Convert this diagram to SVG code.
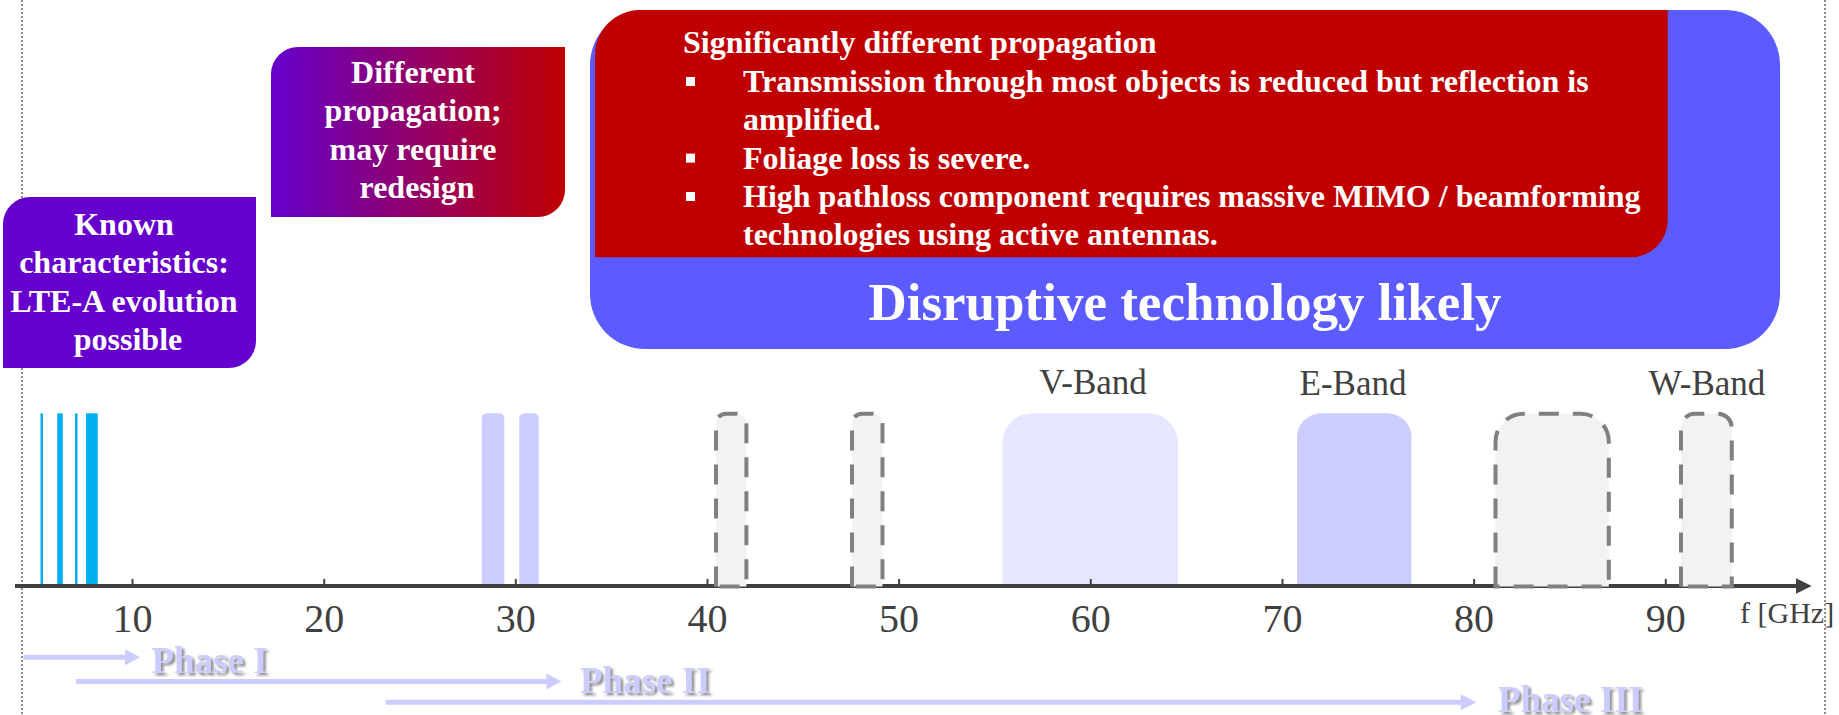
<svg xmlns="http://www.w3.org/2000/svg" width="1839" height="715" viewBox="0 0 1839 715">
  <defs>
    <linearGradient id="gradPurpleRed" x1="0" y1="0" x2="1" y2="0">
      <stop offset="0" stop-color="#6600CC"/>
      <stop offset="1" stop-color="#C00000"/>
    </linearGradient>
    <filter id="phaseShadow" x="-10%" y="-30%" width="130%" height="170%">
      <feDropShadow dx="2.5" dy="2.5" stdDeviation="1" flood-color="#7F7F7F" flood-opacity="0.85"/>
    </filter>
  </defs>
  <style>
    .box-text { font-family: "Liberation Serif", "Times New Roman", serif; font-weight: bold; font-size: 32px; fill: #FFFFFF; }
    .axis-label { font-family: "Liberation Serif", "Times New Roman", serif; fill: #404040; }
    .phase-text { font-family: "Liberation Serif", "Times New Roman", serif; font-weight: bold; font-size: 37px; fill: #CCCCFF; }
    .guide { stroke: #8C8C8C; stroke-width: 2; stroke-dasharray: 2 2; fill: none; }
    .tick { stroke: #404040; stroke-width: 2; }
    .candidate { fill: #F2F2F2; stroke: #808080; stroke-width: 4; stroke-dasharray: 20 14; }
    .phase-line { stroke: #CCCCFF; stroke-width: 5; fill: none; }
    .phase-head { fill: #CCCCFF; }
  </style>

  <!-- page guides -->
  <g id="guides">
    <line class="guide" x1="22" y1="0" x2="22" y2="715"/>
    <line class="guide" x1="1825" y1="0" x2="1825" y2="715"/>
  </g>

  <!-- characterisation boxes -->
  <g id="known-box">
    <path d="M3,368 V224 A27,27 0 0 1 30,197 H256 V341 A27,27 0 0 1 229,368 Z" fill="#6600CC"/>
    <text class="box-text" text-anchor="middle">
      <tspan x="128" y="235">Known</tspan>
      <tspan x="128" y="273.4">characteristics:</tspan>
      <tspan x="128" y="311.8">LTE-A evolution</tspan>
      <tspan x="128" y="350.2">possible</tspan>
    </text>
  </g>

  <g id="different-box">
    <path d="M271,217 V74 A27,27 0 0 1 298,47 H565 V190 A27,27 0 0 1 538,217 Z" fill="url(#gradPurpleRed)"/>
    <text class="box-text" text-anchor="middle">
      <tspan x="417" y="82.7">Different</tspan>
      <tspan x="417" y="121.1">propagation;</tspan>
      <tspan x="417" y="159.5">may require</tspan>
      <tspan x="417" y="197.9">redesign</tspan>
    </text>
  </g>

  <g id="disruptive-box">
    <rect x="590" y="10" width="1190" height="339" rx="55" ry="55" fill="#5B5BFF"/>
    <text class="box-text" x="1185" y="320" text-anchor="middle" style="font-size:53px">Disruptive technology likely</text>
  </g>

  <g id="propagation-box">
    <path d="M595,257.3 V55 A45,45 0 0 1 640,10 H1667.7 V220.3 A37,37 0 0 1 1630.7,257.3 Z" fill="#C00000"/>
    <text class="box-text" x="683" y="53.3">Significantly different propagation</text>
    <rect x="686" y="77" width="9" height="9" fill="#FFFFFF"/>
    <rect x="686" y="153.6" width="9" height="9" fill="#FFFFFF"/>
    <rect x="686" y="192" width="9" height="9" fill="#FFFFFF"/>
    <text class="box-text">
      <tspan x="743" y="91.7">Transmission through most objects is reduced but reflection is</tspan>
      <tspan x="743" y="130.1">amplified.</tspan>
      <tspan x="743" y="168.5">Foliage loss is severe.</tspan>
      <tspan x="743" y="206.9">High pathloss component requires massive MIMO / beamforming</tspan>
      <tspan x="743" y="245.3">technologies using active antennas.</tspan>
    </text>
  </g>

  <!-- spectrum allocations -->
  <g id="lte-bands" fill="#00B0F0">
    <rect x="40.5" y="413.3" width="2.5" height="172.7"/>
    <rect x="57.3" y="413.3" width="5.5" height="172.7"/>
    <rect x="75" y="413.3" width="2.5" height="172.7"/>
    <rect x="86" y="413.3" width="11.7" height="172.7"/>
  </g>

  <g id="band-28-31" fill="#CCCCFF">
    <path d="M481.7,586 V418.3 A5,5 0 0 1 486.7,413.3 H499.3 A5,5 0 0 1 504.3,418.3 V586 Z"/>
    <path d="M519.3,586 V418.3 A5,5 0 0 1 524.3,413.3 H533.7 A5,5 0 0 1 538.7,418.3 V586 Z"/>
  </g>

  <g id="v-band">
    <path d="M1002.5,586 V443.3 A30,30 0 0 1 1032.5,413.3 H1148 A30,30 0 0 1 1178,443.3 V586 Z" fill="#E6E6FF"/>
    <text class="axis-label" x="1093" y="394" text-anchor="middle" font-size="35">V-Band</text>
  </g>

  <g id="e-band">
    <path d="M1297,586 V437.3 A24,24 0 0 1 1321,413.3 H1387.5 A24,24 0 0 1 1411.5,437.3 V586 Z" fill="#CCCCFF"/>
    <text class="axis-label" x="1353" y="395" text-anchor="middle" font-size="35">E-Band</text>
  </g>

  <!-- frequency axis -->
  <g id="axis">
    <line x1="15" y1="586" x2="1798" y2="586" stroke="#404040" stroke-width="4"/>
    <polygon points="1796,578.3 1811.7,586 1796,593.7" fill="#404040"/>
    <line class="tick" x1="132.5" y1="579" x2="132.5" y2="586"/>
    <line class="tick" x1="324.2" y1="579" x2="324.2" y2="586"/>
    <line class="tick" x1="515.8" y1="579" x2="515.8" y2="586"/>
    <line class="tick" x1="707.5" y1="579" x2="707.5" y2="586"/>
    <line class="tick" x1="899.1" y1="579" x2="899.1" y2="586"/>
    <line class="tick" x1="1090.8" y1="579" x2="1090.8" y2="586"/>
    <line class="tick" x1="1282.5" y1="579" x2="1282.5" y2="586"/>
    <line class="tick" x1="1474.1" y1="579" x2="1474.1" y2="586"/>
    <line class="tick" x1="1665.8" y1="579" x2="1665.8" y2="586"/>
    <g class="axis-label" font-size="40" text-anchor="middle">
      <text x="132.5" y="631.7">10</text>
      <text x="324.2" y="631.7">20</text>
      <text x="515.8" y="631.7">30</text>
      <text x="707.5" y="631.7">40</text>
      <text x="899.1" y="631.7">50</text>
      <text x="1090.8" y="631.7">60</text>
      <text x="1282.5" y="631.7">70</text>
      <text x="1474.1" y="631.7">80</text>
      <text x="1665.8" y="631.7">90</text>
    </g>
    <text class="axis-label" x="1740" y="623" font-size="30">f [GHz]</text>
  </g>

  <!-- candidate bands (dashed) -->
  <g id="candidate-40">
    <path class="candidate" d="M716,586.5 V423.7 A10,10 0 0 1 726,413.7 H736.4 A10,10 0 0 1 746.4,423.7 V586.5 Z"/>
  </g>
  <g id="candidate-48">
    <path class="candidate" d="M852,586.5 V423.7 A10,10 0 0 1 862,413.7 H872.5 A10,10 0 0 1 882.5,423.7 V586.5 Z"/>
  </g>
  <g id="candidate-84">
    <path class="candidate" d="M1495.5,586.5 V441.7 A28,28 0 0 1 1523.5,413.7 H1580.8 A28,28 0 0 1 1608.8,441.7 V586.5 Z"/>
  </g>
  <g id="w-band">
    <path class="candidate" d="M1681,586.5 V427.7 A14,14 0 0 1 1695,413.7 H1717.8 A14,14 0 0 1 1731.8,427.7 V586.5 Z"/>
    <text class="axis-label" x="1707" y="395" text-anchor="middle" font-size="35">W-Band</text>
  </g>

  <!-- phase timeline arrows -->
  <g id="connectors">
    <line class="phase-line" x1="23.5" y1="657.3" x2="126" y2="657.3"/>
    <polygon class="phase-head" points="125,649.3 140,657.3 125,665.3"/>
    <line class="phase-line" x1="76" y1="681.5" x2="547" y2="681.5"/>
    <polygon class="phase-head" points="546.4,673.5 561.5,681.5 546.4,689.5"/>
    <line class="phase-line" x1="385.5" y1="702.3" x2="1462" y2="702.3"/>
    <polygon class="phase-head" points="1460.8,694.3 1476.3,702.3 1460.8,710.3"/>
  </g>

  <g id="phase-1">
    <text class="phase-text" x="151.5" y="673.3" filter="url(#phaseShadow)">Phase I</text>
  </g>
  <g id="phase-2">
    <text class="phase-text" x="580" y="692.5" filter="url(#phaseShadow)">Phase II</text>
  </g>
  <g id="phase-3">
    <text class="phase-text" x="1498" y="712" filter="url(#phaseShadow)">Phase III</text>
  </g>
</svg>
